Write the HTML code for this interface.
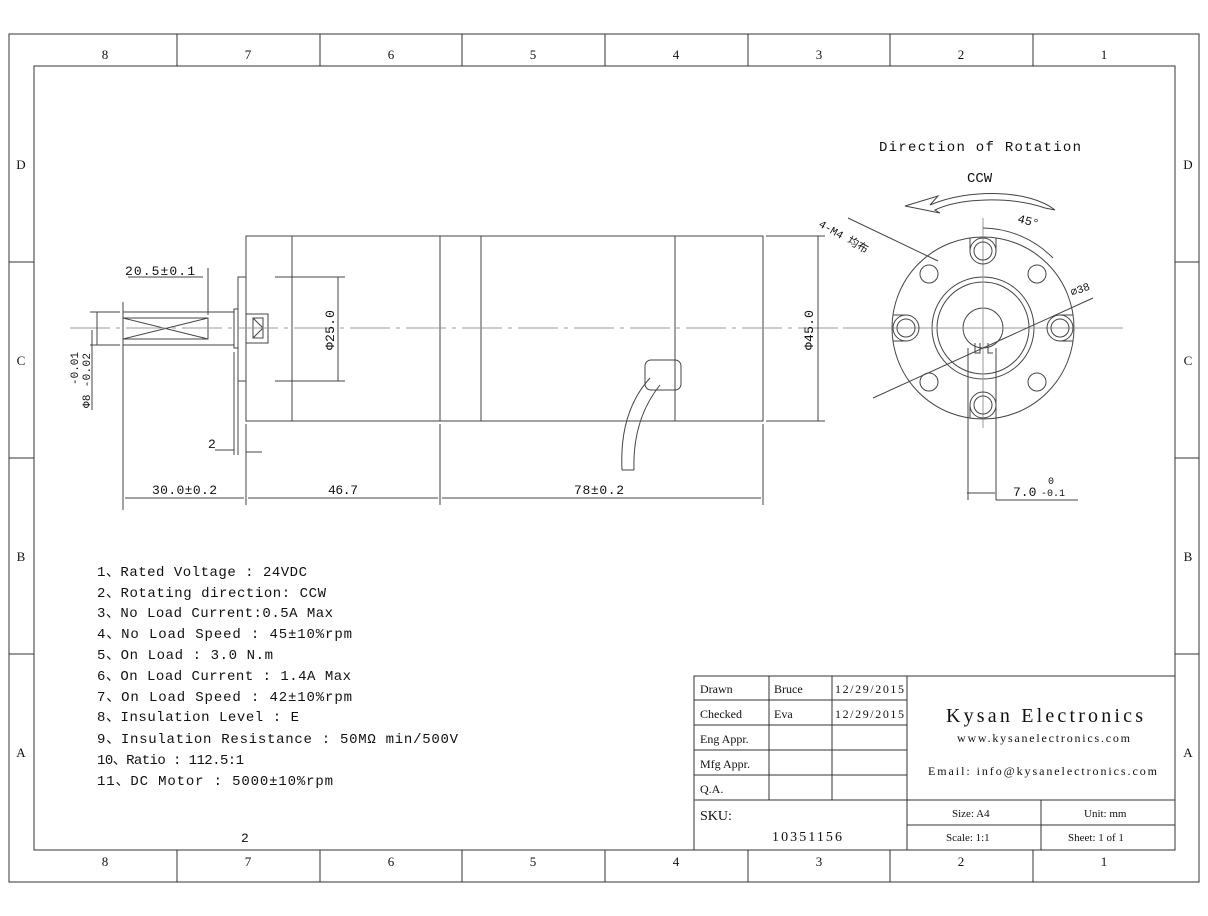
<!DOCTYPE html>
<html><head><meta charset="utf-8"><style>
body{margin:0;background:#fff}
svg{display:block;font-family:"Liberation Mono","Noto Sans CJK SC",monospace}
text{fill:#111}
</style></head><body>
<svg width="1208" height="916" viewBox="0 0 1208 916" xmlns="http://www.w3.org/2000/svg">
<g stroke="#333" fill="none" stroke-width="1">
<rect x="9" y="34" width="1190" height="848"/>
<rect x="34" y="66" width="1141" height="784"/>
<path d="M177 34V66M320 34V66M462 34V66M605 34V66M748 34V66M890 34V66M1033 34V66
M177 850V882M320 850V882M462 850V882M605 850V882M748 850V882M890 850V882M1033 850V882
M9 262H34M9 458H34M9 654H34M1175 262H1199M1175 458H1199M1175 654H1199"/>
</g>
<g font-size="13" text-anchor="middle" font-family="Liberation Serif, serif">
<text x="105" y="59">8</text><text x="248" y="59">7</text><text x="391" y="59">6</text><text x="533" y="59">5</text><text x="676" y="59">4</text><text x="819" y="59">3</text><text x="961" y="59">2</text><text x="1104" y="59">1</text>
<text x="105" y="866">8</text><text x="248" y="866">7</text><text x="391" y="866">6</text><text x="533" y="866">5</text><text x="676" y="866">4</text><text x="819" y="866">3</text><text x="961" y="866">2</text><text x="1104" y="866">1</text>
<text x="21" y="169">D</text><text x="21" y="365">C</text><text x="21" y="561">B</text><text x="21" y="757">A</text>
<text x="1188" y="169">D</text><text x="1188" y="365">C</text><text x="1188" y="561">B</text><text x="1188" y="757">A</text>
</g>
<g stroke="#444" fill="none" stroke-width="1">
<rect x="246" y="236" width="517" height="185"/>
<path d="M292 236V421M440 236V421M481 236V421M675 236V421"/>
<rect x="238" y="277" width="8" height="104"/>
<rect x="234" y="309" width="4" height="39"/>
<rect x="123" y="312" width="111" height="33"/>
<rect x="123" y="318" width="85" height="21"/>
<path d="M123 318L208 339M123 339L208 318"/>
<rect x="246" y="314" width="22" height="29"/>
<path d="M253 318h10v20h-10zM253 318l10 10-10 10"/>
<path d="M70 328H1120" stroke="#999" stroke-dasharray="40 6 4 6"/>
<path d="M123 302V510M208 268V315M128 277H203M90 312H120M90 345H120M97 312V345M92 330V410"/>
<path d="M246 424V505M440 424V505M763 424V505M234 352V455M238 352V455M246 452H262M215 450H234"/>
<path d="M125 498H244M248 498H438M442 498H761"/>
<path d="M275 277H345M275 381H345M338 277V381"/>
<path d="M766 236H825M766 421H825M818 236V421"/>
<rect x="645" y="360" width="36" height="30" rx="6"/>
<path d="M650 378C630 400 620 430 622 470M660 385C640 410 633 440 634 470M622 470H634"/>
</g>
<g font-size="13">
<text x="125" y="275" textLength="70">20.5±0.1</text>
<text x="152" y="494" textLength="65">30.0±0.2</text>
<text x="328" y="494" textLength="30">46.7</text>
<text x="574" y="494" textLength="50">78±0.2</text>
<text x="208" y="448">2</text>
<text transform="translate(334,350) rotate(-90)" textLength="40">Φ25.0</text>
<text transform="translate(813,350) rotate(-90)" textLength="40">Φ45.0</text>
<text font-size="11" transform="translate(90,408) rotate(-90)" textLength="55">Φ8 -0.02</text>
<text font-size="11" transform="translate(78,385) rotate(-90)">-0.01</text>
</g>
<g stroke="#444" fill="none" stroke-width="1" transform="translate(983,328)">
<circle r="91"/><circle r="51"/><circle r="46"/><circle r="20"/>
<path d="M-140 0H140M0 -110V100" stroke="#999"/>
<g id="b"><circle cx="0" cy="-77" r="13"/><circle cx="0" cy="-77" r="9"/><path d="M-13 -90V-77M13 -90V-77"/></g>
<use href="#b" transform="rotate(90)"/><use href="#b" transform="rotate(180)"/><use href="#b" transform="rotate(270)"/>
<circle cx="-54" cy="-54" r="9"/><circle cx="54" cy="-54" r="9"/><circle cx="-54" cy="54" r="9"/><circle cx="54" cy="54" r="9"/>
<path d="M-15 20V172M13 20V172M13 172H95M-16 165H12"/>
<path d="M-110 70L110 -30M-135 -110L-45 -67M0 -100A100 100 0 0 1 70 -70"/>
<path d="M-8 15v10h5v-10M5 15v10h5"/>
</g>
<path d="M905 206L938 196L930 205C970 188 1030 190 1055 210L1045 208C1010 196 960 198 935 210L940 213Z" fill="none" stroke="#444"/>
<g font-size="14">
<text x="879" y="151" textLength="202">Direction of Rotation</text>
<text x="967" y="182">CCW</text>
<text x="1017" y="222" font-size="12" transform="rotate(15 1017 222)">45°</text>
<text x="1072" y="296" font-size="11" transform="rotate(-20 1072 296)">⌀38</text>
<text x="818" y="226" font-size="11" transform="rotate(30 818 226)">4-M4 均布</text>
<text x="1013" y="496" font-size="13">7.0</text>
<text x="1048" y="484" font-size="10">0</text>
<text x="1041" y="496" font-size="10">-0.1</text>
</g>
<g font-size="14">
<text x="97" y="576" textLength="210">1、Rated Voltage : 24VDC</text>
<text x="97" y="597" textLength="229">2、Rotating direction: CCW</text>
<text x="97" y="617" textLength="236">3、No Load Current:0.5A Max</text>
<text x="97" y="638" textLength="255">4、No Load Speed : 45±10%rpm</text>
<text x="97" y="659" textLength="176">5、On Load : 3.0 N.m</text>
<text x="97" y="680" textLength="254">6、On Load Current : 1.4A Max</text>
<text x="97" y="701" textLength="255">7、On Load Speed : 42±10%rpm</text>
<text x="97" y="721" textLength="202">8、Insulation Level : E</text>
<text x="97" y="743" textLength="361">9、Insulation Resistance : 50MΩ min/500V</text>
<text x="97" y="764" textLength="147">10、Ratio : 112.5:1</text>
<text x="97" y="785" textLength="236">11、DC Motor : 5000±10%rpm</text>
</g>
<text x="241" y="842" font-size="13">2</text>
<g stroke="#333" fill="none">
<rect x="694" y="676" width="481" height="174"/>
<path d="M694 700H907M694 725H907M694 750H907M694 775H907M694 800H1175M907 825H1175M769 676V800M832 676V800M907 676V850M1041 800V850"/>
</g>
<g font-size="12" font-family="Liberation Serif, serif">
<text x="700" y="693">Drawn</text><text x="774" y="693">Bruce</text><text x="835" y="693" textLength="69">12/29/2015</text>
<text x="700" y="718">Checked</text><text x="774" y="718">Eva</text><text x="835" y="718" textLength="69">12/29/2015</text>
<text x="700" y="743">Eng Appr.</text><text x="700" y="768">Mfg Appr.</text><text x="700" y="793">Q.A.</text>
<text x="700" y="820" font-size="14">SKU:</text>
<text x="772" y="841" font-size="14" textLength="70">10351156</text>
<text x="946" y="722" font-size="20" textLength="197">Kysan Electronics</text>
<text x="957" y="742" textLength="173">www.kysanelectronics.com</text>
<text x="928" y="775" textLength="229">Email: info@kysanelectronics.com</text>
<text x="952" y="817" font-size="11">Size: A4</text>
<text x="1084" y="817" font-size="11">Unit: mm</text>
<text x="946" y="841" font-size="11">Scale: 1:1</text>
<text x="1068" y="841" font-size="11">Sheet: 1 of 1</text>
</g>
</svg>
</body></html>
